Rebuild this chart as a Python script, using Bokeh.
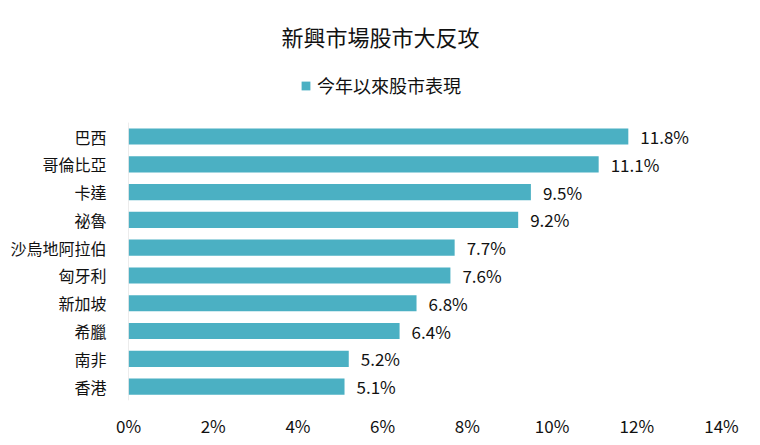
from bokeh.plotting import figure
from bokeh.models import (FactorRange, Range1d, FixedTicker, PrintfTickFormatter,
                          ColumnDataSource, Legend, LegendItem, Label)
from bokeh.core.properties import value
from bokeh.embed import file_html
from bokeh.resources import INLINE

title_text = "新興市場股市大反攻"
series_name = "今年以來股市表現"
countries = ["巴西", "哥倫比亞", "卡達", "祕魯", "沙烏地阿拉伯", "匈牙利", "新加坡", "希臘", "南非", "香港"]
returns = [11.8, 11.1, 9.5, 9.2, 7.7, 7.6, 6.8, 6.4, 5.2, 5.1]
x_ticks = [0, 2, 4, 6, 8, 10, 12, 14]

FONT = "Noto Sans CJK TC"
BAR = "#4bb0c3"
TXT = "#111111"

src = ColumnDataSource(dict(
    country=countries,
    ret=returns,
    lbl=[f"{v:.1f}%" for v in returns],
))

# blank rows on top leave room for the title and legend inside the frame
factors = list(reversed(countries)) + [" ", "  ", "   ", "    "]

p = figure(width=744, height=440, output_backend="svg", toolbar_location=None,
           y_range=FactorRange(factors=factors),
           x_range=Range1d(0, 14),
           min_border_left=128, min_border_right=23, min_border_top=11, min_border_bottom=40)

r = p.hbar(y="country", right="ret", left=0, height=0.58, source=src,
           fill_color=BAR, line_color=None)

p.text(x="ret", y="country", text="lbl", source=src, x_offset=12,
       text_baseline="middle", text_align="left", text_font=value(FONT),
       text_font_size="17px", text_color=TXT)

# category axis line spanning only the bar rows
p.segment(x0=[0], x1=[0], y0=[(countries[-1], -0.5)], y1=[(countries[0], 0.5)],
          line_color="#d9d9d9", line_width=1)

title = Label(x=252, y=365, x_units="screen", y_units="screen", text=title_text,
              text_align="center", text_baseline="middle", text_font=FONT,
              text_font_size="22px", text_color=TXT)
p.add_layout(title)

legend = Legend(items=[LegendItem(label=series_name, renderers=[r])],
                location=(172, 302), orientation="horizontal",
                label_text_font=FONT, label_text_font_size="18px",
                label_text_color=TXT, glyph_width=11, glyph_height=11,
                label_standoff=6,
                border_line_color=None, background_fill_alpha=0, margin=0, padding=4)
p.add_layout(legend, "center")

p.xaxis.ticker = FixedTicker(ticks=x_ticks)
p.xaxis.formatter = PrintfTickFormatter(format="%d%%")
p.xaxis.axis_line_color = None
p.xaxis.major_tick_line_color = None
p.xaxis.minor_tick_line_color = None
p.xaxis.major_label_text_font = FONT
p.xaxis.major_label_text_font_size = "17px"
p.xaxis.major_label_text_color = TXT
p.xaxis.major_label_standoff = 6

p.yaxis.axis_line_color = None
p.yaxis.major_tick_line_color = None
p.yaxis.minor_tick_line_color = None
p.yaxis.major_label_text_font = FONT
p.yaxis.major_label_text_font_size = "16px"
p.yaxis.major_label_text_color = TXT
p.yaxis.major_label_standoff = 16

p.xgrid.visible = False
p.ygrid.visible = False
p.outline_line_color = None

open("out.html", "w").write(file_html(p, INLINE))
